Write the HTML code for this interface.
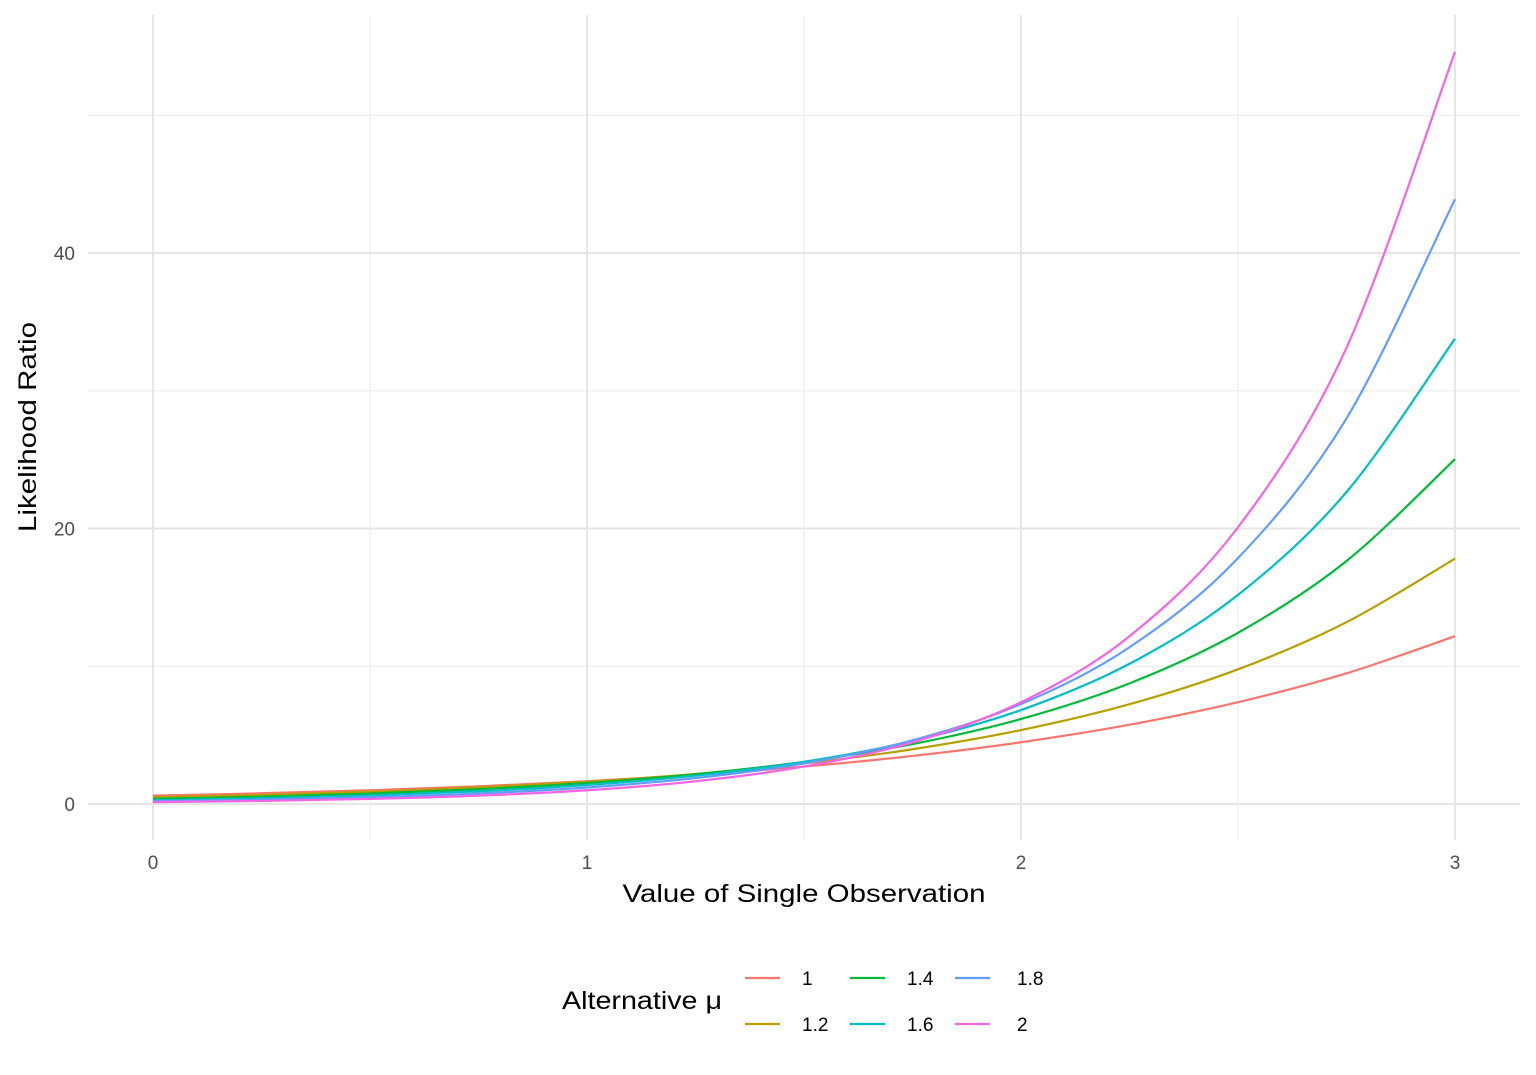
<!DOCTYPE html>
<html><head><meta charset="utf-8"><style>
html,body{margin:0;padding:0;background:#fff;}
svg{display:block;font-family:"Liberation Sans",Arial,sans-serif;}
</style></head><body>
<svg id="chart" width="1536" height="1075" viewBox="0 0 1536 1075" xmlns="http://www.w3.org/2000/svg">
<g id="grid"></g>
<g id="series"></g>
<g id="axes"></g>
<text x="804" y="902" font-size="25" text-anchor="middle" textLength="363" lengthAdjust="spacingAndGlyphs" fill="#000">Value of Single Observation</text>
<text transform="translate(36,427) rotate(-90)" font-size="25" text-anchor="middle" textLength="210" lengthAdjust="spacingAndGlyphs" fill="#000">Likelihood Ratio</text>
<g id="legend">
<text x="562" y="1009" font-size="25" textLength="160" lengthAdjust="spacingAndGlyphs" fill="#000">Alternative μ</text>
</g>
</svg>
<script>
const xs = [0,0.25,0.5,0.75,1,1.25,1.5,1.75,2,2.25,2.5,2.75,3];
const seriesNames = ["1","1.2","1.4","1.6","1.8","2"];
const s1  = [0.607,0.779,1.0,1.284,1.649,2.117,2.718,3.490,4.482,5.755,7.389,9.488,12.18];
const s12 = [0.487,0.657,0.887,1.197,1.616,2.181,2.945,3.975,5.366,7.243,9.777,13.20,17.81];
const s14 = [0.375,0.532,0.756,1.072,1.522,2.160,3.065,4.349,6.172,8.758,12.43,17.64,25.03];
const s16 = [0.278,0.415,0.619,0.924,1.377,2.054,3.065,4.572,6.821,10.18,15.18,22.65,33.78];
const s18 = [0.198,0.311,0.487,0.765,1.199,1.881,2.950,4.627,7.256,11.38,17.85,27.99,43.90];
const s2  = [0.135,0.223,0.368,0.607,1.0,1.649,2.718,4.482,7.389,12.18,20.09,33.12,54.60];
const seriesValues = [s1,s12,s14,s16,s18,s2];
const xTicks = [0,1,2,3];
const xMinor = [0.5,1.5,2.5];
const yTicks = [0,20,40];
const yMinor = [10,30,50];
const colors = ["#F8766D","#B79F00","#00BA38","#00BFC4","#619CFF","#F564E3"];
const NS="http://www.w3.org/2000/svg";
const X = v => 153 + v*(1455-153)/3;
const Y = v => 804 - v*(804-253)/40;
const PL=88, PR=1520, PT=15, PB=840;
function mk(tag, attrs, parent){const e=document.createElementNS(NS,tag);for(const k in attrs)e.setAttribute(k,attrs[k]);parent.appendChild(e);return e;}
const grid=document.getElementById('grid'), axes=document.getElementById('axes'), ser=document.getElementById('series'), leg=document.getElementById('legend');
yMinor.forEach(v=>{const l=mk('line',{x1:PL,x2:PR,y1:Y(v),y2:Y(v),stroke:'#ebebeb','stroke-width':1},grid);

});
xMinor.forEach(v=>{const l=mk('line',{x1:X(v),x2:X(v),y1:PT,y2:PB,stroke:'#ebebeb','stroke-width':1},grid);

});
yTicks.forEach(v=>{const l=mk('line',{x1:PL,x2:PR,y1:Y(v),y2:Y(v),stroke:'#e6e6e6','stroke-width':2},grid);


const t=mk('text',{x:75,y:Y(v)+7,'font-size':19,'text-anchor':'end',fill:'#4d4d4d'},axes);t.textContent=v;

});
xTicks.forEach(v=>{const l=mk('line',{x1:X(v),x2:X(v),y1:PT,y2:PB,stroke:'#e6e6e6','stroke-width':2},grid);


const t=mk('text',{x:X(v),y:869,'font-size':19,'text-anchor':'middle',fill:'#4d4d4d'},axes);t.textContent=v;

});
function path(vals){
  const p=xs.map((x,i)=>[X(x),Y(vals[i])]);
  let d=`M${p[0][0]},${p[0][1]}`;
  for(let i=0;i<p.length-1;i++){
    const p0=p[Math.max(i-1,0)],p1=p[i],p2=p[i+1],p3=p[Math.min(i+2,p.length-1)];
    const c1=[p1[0]+(p2[0]-p0[0])/6,p1[1]+(p2[1]-p0[1])/6];
    const c2=[p2[0]-(p3[0]-p1[0])/6,p2[1]-(p3[1]-p1[1])/6];
    d+=` C${c1[0]},${c1[1]} ${c2[0]},${c2[1]} ${p2[0]},${p2[1]}`;
  }
  return d;
}
seriesValues.forEach((vals,i)=>{
  const e=mk('path',{d:path(vals),fill:'none',stroke:colors[i],'stroke-width':2.2},ser);
  
  
});
const kx=[745,850,955], lx=[802,907,1017], ky=[978,1024];
seriesNames.forEach((n,i)=>{
  const c=Math.floor(i/2), r=i%2;
  const k=mk('line',{x1:kx[c],x2:kx[c]+35,y1:ky[r],y2:ky[r],stroke:colors[i],'stroke-width':2.2},leg);
  
  
  const t=mk('text',{x:lx[c],y:ky[r]+7,'font-size':19,fill:'#000'},leg);t.textContent=n;
  
  
});
</script>
</body></html>
